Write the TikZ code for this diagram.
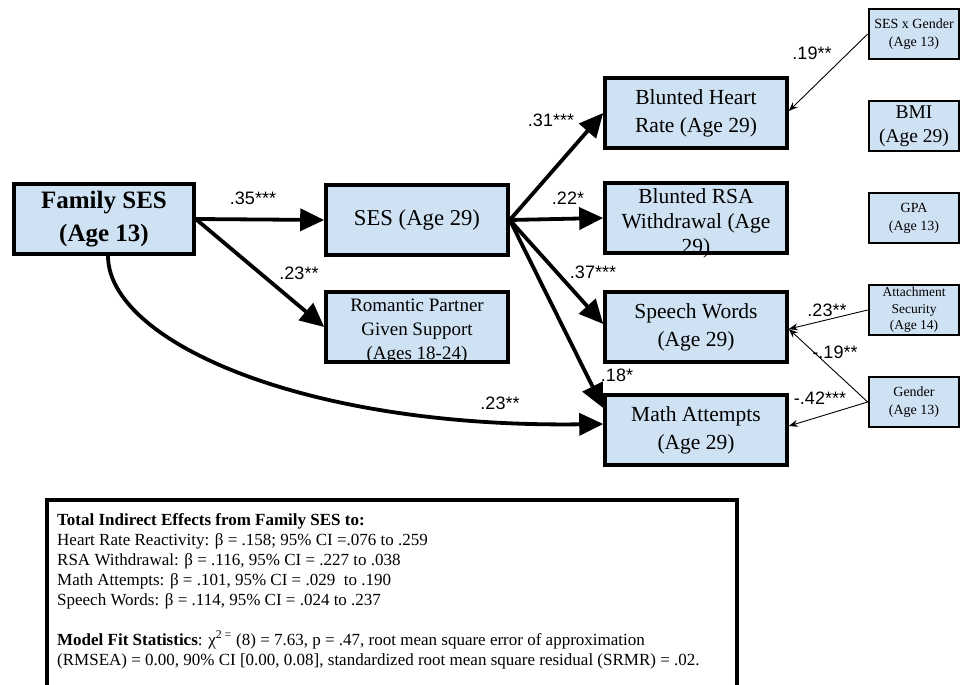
\documentclass[tikz,border=0pt]{standalone}
\usepackage{fontspec}
\setmainfont{Liberation Serif}
\newfontfamily\labfont{Liberation Sans}
\usetikzlibrary{arrows.meta,calc,positioning}
\definecolor{BoxFill}{RGB}{207,226,243}
\definecolor{RuleCol}{RGB}{0,0,0}
\tikzset{
  sembox/.style={draw=RuleCol, fill=BoxFill, line width=3.6pt, align=center, inner sep=0pt},
  bigbox/.style={sembox, minimum width=180pt, minimum height=70pt},
  midbox/.style={sembox, minimum width=182pt, minimum height=70pt},
  sidebox/.style={sembox, line width=2.6pt, minimum width=90pt, minimum height=50pt},
  sempath/.style={-{Triangle[length=24pt,width=22pt]}, line width=3.8pt, draw=RuleCol},
  semcov/.style={-{Stealth[length=9pt,width=7pt]}, line width=0.9pt, draw=RuleCol},
  semlab/.style={font=\labfont\fontsize{18}{20}\selectfont, inner sep=0pt},
  outtxt/.style={font=\fontsize{21.5}{28}\selectfont},
  sidetxt/.style={font=\fontsize{14}{18}\selectfont}
}
\begin{document}
\begin{tikzpicture}[x=1pt,y=-1pt]
  \useasboundingbox[fill=white] (0,0) rectangle (961,685);
  % boxes
  \node[bigbox, font=\bfseries\fontsize{25}{33}\selectfont] (fam) at (104,219) {Family SES\\(Age 13)};
  \node[midbox, font=\fontsize{22.7}{28}\selectfont] (ses) at (417,220) {SES (Age 29)};
  \node[midbox] (rom) at (417,327) {};
  \node[font=\fontsize{19}{24}\selectfont, align=center, inner sep=0pt] (romtxt) at (417,331) {Romantic Partner\\Given Support\\(Ages 18-24)};
  \node[midbox, outtxt] (heart) at (696,113) {Blunted Heart\\Rate (Age 29)};
  \node[midbox] (rsa) at (696,218) {};
  \node[font=\fontsize{21.5}{25}\selectfont, align=center, inner sep=0pt] (rsatxt) at (696,223) {Blunted RSA\\Withdrawal (Age\\29)};
  \node[midbox, outtxt] (speech) at (696,327) {Speech Words\\(Age 29)};
  \node[midbox, outtxt] (math) at (696,430) {Math Attempts\\(Age 29)};
  \node[sidebox, sidetxt] (sxg) at (914,34) {SES x Gender\\(Age 13)};
  \node[sidebox, font=\fontsize{19.5}{24}\selectfont] (bmi) at (914,126) {BMI\\(Age 29)};
  \node[sidebox, sidetxt] (gpa) at (914,218) {GPA\\(Age 13)};
  \node[sidebox, font=\fontsize{13.5}{16.5}\selectfont] (att) at (914,310) {Attachment\\Security\\(Age 14)};
  \node[sidebox, sidetxt] (gen) at (914,402) {Gender\\(Age 13)};
  % paths
  \draw[sempath] (fam.east) -- (ses.west);
  \draw[sempath] (fam.east) -- (rom.west);
  \draw[sempath] ([xshift=4pt]fam.south) .. controls (108,340) and (300,428) .. ([yshift=6pt]math.west);
  \draw[sempath] (ses.east) -- (heart.west);
  \draw[sempath] (ses.east) -- (rsa.west);
  \draw[sempath] (ses.east) -- ([yshift=3pt]speech.west);
  \draw[sempath] (ses.east) -- ([yshift=22pt]math.west);
  \draw[semcov] (sxg.west) -- ([yshift=2pt]heart.east);
  \draw[semcov] (att.west) -- ([yshift=-2pt]speech.east);
  \draw[semcov] (gen.west) -- ([yshift=-2pt]speech.east);
  \draw[semcov] (gen.west) -- ([yshift=4pt]math.east);
  % coefficients
  \node[semlab] (l1) at (253,198) {.35***};
  \node[semlab] (l2) at (299,273) {.23**};
  \node[semlab] (l3) at (500,403) {.23**};
  \node[semlab] (l4) at (551,120) {.31***};
  \node[semlab] (l5) at (568,198) {.22*};
  \node[semlab] (l6) at (593,272) {.37***};
  \node[semlab] (l7) at (617,375) {.18*};
  \node[semlab] (l8) at (812,53) {.19**};
  \node[semlab] (l9) at (827,310) {.23**};
  \node[semlab] (l10) at (835,352) {-.19**};
  \node[semlab] (l11) at (820,398) {-.42***};
  % summary
  \draw[line width=3.6pt] (47,690) |- (737,500) -- (737,690);
  \node[anchor=north west, align=left, inner sep=0pt, font=\fontsize{17}{20}\selectfont] (summ) at (57,513)
    {\textbf{Total Indirect Effects from Family SES to:}\\
     Heart Rate Reactivity: β = .158; 95\% CI =.076 to .259\\
     RSA Withdrawal: β = .116, 95\% CI = .227 to .038\\
     Math Attempts: β = .101, 95\% CI = .029 \ to .190\\
     Speech Words: β = .114, 95\% CI = .024 to .237\\[20pt]
     \textbf{Model Fit Statistics}: χ\textsuperscript{2 =} (8) = 7.63, p = .47, root mean square error of approximation\\
     (RMSEA) = 0.00, 90\% CI [0.00, 0.08], standardized root mean square residual (SRMR) = .02.};
\end{tikzpicture}
\end{document}
